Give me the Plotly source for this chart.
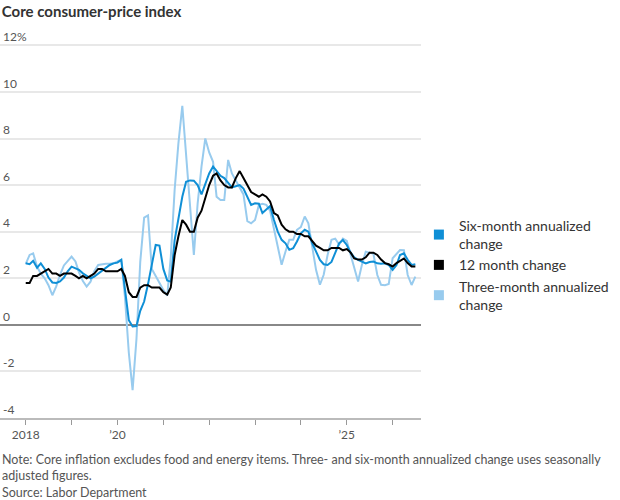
import pandas as pd
import plotly.graph_objects as go

months = pd.date_range("2018-01-01", "2026-07-01", freq="MS")

twelve_month = [
    1.8, 1.8, 2.1, 2.1, 2.2, 2.3, 2.4, 2.2, 2.2, 2.1, 2.2, 2.2,
    2.2, 2.1, 2.0, 2.1, 2.0, 2.1, 2.2, 2.4, 2.4, 2.3, 2.3, 2.3,
    2.3, 2.4, 2.1, 1.4, 1.2, 1.2, 1.6, 1.7, 1.7, 1.6, 1.6, 1.6,
    1.4, 1.3, 1.6, 3.0, 3.8, 4.5, 4.3, 4.0, 4.0, 4.6, 4.9, 5.5,
    6.0, 6.4, 6.5, 6.2, 6.0, 5.9, 5.9, 6.3, 6.6, 6.3, 6.0, 5.7,
    5.6, 5.5, 5.6, 5.5, 5.3, 4.8, 4.7, 4.3, 4.1, 4.0, 4.0, 3.9,
    3.9, 3.8, 3.8, 3.6, 3.4, 3.3, 3.2, 3.2, 3.3, 3.3, 3.3, 3.2,
    3.25, 3.1, 2.85, 2.8, 2.8, 2.9, 3.1, 3.1, 3.0, 2.8, 2.65, 2.6,
    2.5, 2.65, 2.75, 2.85, 2.65, 2.5, 2.5,
]

six_month = [
    2.64, 2.6, 2.75, 2.45, 2.64, 2.4, 2.03, 1.82, 1.8, 1.86, 2.03, 2.3,
    2.5, 2.43, 2.36, 2.21, 2.1, 2.0, 2.07, 2.2, 2.3, 2.43, 2.57, 2.64,
    2.67, 2.79, 1.6, 0.2, -0.07, -0.05, 0.6, 1.0, 1.75, 2.6, 3.43, 3.4,
    2.4, 1.9, 1.85, 3.64, 4.64, 5.5, 6.14, 6.2, 6.19, 6.0, 5.6, 6.07,
    6.5, 6.8, 6.6, 6.4, 6.3, 6.1, 5.9, 5.95, 6.0, 5.85, 5.5, 5.15,
    5.22, 5.2, 4.8, 4.94, 5.1, 4.5, 4.0, 3.65, 3.5, 3.22, 3.29, 3.58,
    3.93, 4.08, 4.0, 3.5, 3.15, 2.79, 2.6, 2.57, 2.7, 3.07, 3.5, 3.64,
    3.43, 3.1, 2.9, 2.79, 2.71, 2.64, 2.7, 2.72, 2.64, 2.62, 2.64, 2.57,
    2.36, 2.57, 3.0, 3.07, 2.79, 2.57, 2.6,
]

three_month = [
    2.62, 3.0, 3.07, 2.5, 2.2, 2.0, 1.7, 1.27, 1.65, 2.15, 2.55, 2.75,
    2.93, 2.72, 2.25, 1.88, 1.64, 1.85, 2.3, 2.57, 2.6, 2.62, 2.62, 2.64,
    2.72, 2.79, 1.2, -1.2, -2.8, -0.6, 2.7, 4.6, 4.7, 2.4, 2.1, 1.8,
    1.5, 1.25, 2.9, 5.8, 7.8, 9.4, 7.3, 5.0, 3.0, 5.2, 6.8, 8.0,
    7.4, 7.0, 5.5, 5.36, 5.36, 7.08, 6.5, 6.2, 5.9, 5.6, 4.45, 4.36,
    4.5, 5.15, 5.2, 5.15, 4.9, 4.08, 3.36, 2.58, 3.15, 3.65, 3.65, 4.08,
    4.2, 4.65, 4.36, 3.36, 2.36, 1.72, 2.15, 3.0, 3.65, 3.7, 3.45, 3.7,
    3.6, 3.0, 2.4, 1.86, 2.57, 3.14, 3.1, 3.05, 2.14, 1.72, 1.7, 1.75,
    2.86, 3.03, 3.21, 3.2, 2.14, 1.71, 2.07,
]

y_ticks = [-4, -2, 0, 2, 4, 6, 8, 10, 12]
y_labels = ["-4", "-2", "0", "2", "4", "6", "8", "10", "12%"]
x_ticks = [f"{y}-01-01" for y in range(2018, 2027)]
x_labels = ["2018", "", "’20", "", "", "", "", "’25", ""]

series = [
    ("Six-month annualized<br>change", six_month, "#0f8fd6"),
    ("12 month change", twelve_month, "#000000"),
    ("Three-month annualized<br>change", three_month, "#98cbee"),
]

fig = go.Figure()
# draw light blue at the back, black on top
for name, vals, color in [series[2], series[0], series[1]]:
    fig.add_trace(go.Scatter(x=months, y=vals, mode="lines", name=name,
                             line=dict(color=color, width=2), showlegend=False))
# square swatches for the legend
for name, vals, color in series:
    fig.add_trace(go.Scatter(x=[None], y=[None], mode="markers", name=name,
                             marker=dict(symbol="square", size=10, color=color)))

fig.update_layout(
    width=620, height=500,
    margin=dict(l=0, r=199, t=43, b=82),
    plot_bgcolor="white", paper_bgcolor="white",
    font=dict(family="Lato", size=12, color="#555"),
    title=dict(text="<b>Core consumer-price index</b>", x=0.003, xref="container",
               y=0.976, yref="container", yanchor="middle", xanchor="left",
               font=dict(family="Lato", size=15, color="#333")),
    legend=dict(x=0.995, y=0.555, xanchor="left", yanchor="top",
                font=dict(size=14, color="#333"), itemwidth=30,
                tracegroupgap=0, bgcolor="rgba(0,0,0,0)"),
    annotations=[dict(
        text="Note: Core inflation excludes food and energy items. Three- and six-month annualized change uses seasonally"
             "<br>adjusted figures.<br>Source: Labor Department",
        xref="paper", yref="paper", x=0, y=-0.085, xanchor="left", yanchor="top",
        align="left", showarrow=False, font=dict(size=12.5, color="#555"))],
)
fig.update_xaxes(
    range=["2017-06-10", "2026-08-15"],
    tickvals=x_ticks, ticktext=x_labels,
    ticks="outside", ticklen=5, tickcolor="#999",
    showgrid=False, showline=True, linecolor="#bbb", linewidth=1.5,
    tickfont=dict(size=12, color="#555"),
)
fig.update_yaxes(
    range=[-4, 12.1], tickvals=y_ticks, ticktext=y_labels,
    ticklabelposition="inside top", ticklabeloverflow="allow",
    showgrid=True, gridcolor="#e8e8e8", gridwidth=1.5,
    zeroline=True, zerolinecolor="#888", zerolinewidth=1.5,
    tickfont=dict(size=12, color="#555"),
)

fig.write_html("out.html", config={"displayModeBar": False},
               post_script="document.body.style.margin='0';")
